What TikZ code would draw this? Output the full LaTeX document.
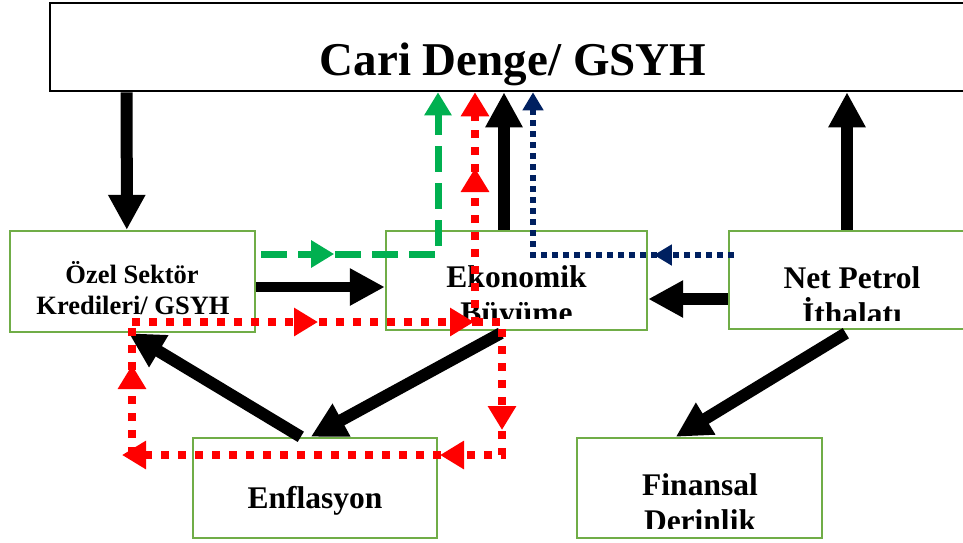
\documentclass[tikz,border=0pt]{standalone}
\usepackage{fontspec}
\setmainfont{Liberation Serif}
\usetikzlibrary{arrows.meta,decorations.markings,calc}
\definecolor{boxgreen}{HTML}{70AD47}
\definecolor{dashgreen}{HTML}{00B050}
\definecolor{navyblue}{HTML}{002060}
\definecolor{redline}{HTML}{FF0000}
\tikzset{
  bigtip/.tip={Triangle[width=35pt,length=35pt]},
  gtip/.tip={Triangle[width=26pt,length=23pt]},
  ntip/.tip={Triangle[width=20pt,length=18pt]},
  rtip/.tip={Triangle[width=27pt,length=24pt]},
  topbox/.style={draw=black, line width=2.6pt, fill=white, inner sep=0pt},
  gbox/.style={draw=boxgreen, line width=2.4pt, fill=white, inner sep=0pt},
  lbl/.style={font=\bfseries\fontsize{31.5}{36}\selectfont, anchor=base, inner sep=0pt},
  lblsmall/.style={font=\bfseries\fontsize{26.5}{31}\selectfont, anchor=base, inner sep=0pt},
  lblbig/.style={font=\bfseries\fontsize{47}{52}\selectfont, anchor=base, inner sep=0pt},
  bigarr/.style={draw=black, line width=12pt, -{bigtip}},
  greendash/.style={draw=dashgreen, line width=7pt, dash pattern=on 26pt off 11pt, -{gtip}},
  navydot/.style={draw=navyblue, line width=5.5pt, dash pattern=on 5.5pt off 5.5pt, -{ntip}},
  reddot/.style={draw=redline, line width=8pt, dash pattern=on 8pt off 9pt},
}
\begin{document}
\begin{tikzpicture}[x=1pt,y=-1pt]
\useasboundingbox (0,0) rectangle (963,542);

% boxes
\node[topbox, minimum width=925pt, minimum height=88pt] (top) at (512.5,47) {};
\node[gbox, minimum width=245pt, minimum height=101pt] (ozel) at (132.5,281.5) {};
\node[gbox, minimum width=261pt, minimum height=99pt] (eko) at (516.5,280.5) {};
\node[gbox, minimum width=246pt, minimum height=98pt] (net) at (852,280) {};
\node[gbox, minimum width=244pt, minimum height=100pt] (enf) at (315,488) {};
\node[gbox, minimum width=245pt, minimum height=100pt] (fin) at (699.5,488) {};

% texts
\node[lblbig] (topT) at (513,75) {Cari Denge/ GSYH};
\node[lblsmall] (ozelT1) at (132,283) {Özel Sektör};
\node[lblsmall] (ozelT2) at (133,314) {Kredileri/ GSYH};
\begin{scope}
  \clip (386,231) rectangle (647,318);
  \node[lbl] (ekoT1) at (516.5,287) {Ekonomik};
  \node[lbl] (ekoT2) at (516.5,323) {Büyüme};
\end{scope}
\begin{scope}
  \clip (729,231) rectangle (963,320);
  \node[lbl] (netT1) at (852,288) {Net Petrol};
  \node[lbl] (netT2) at (852,324) {İthalatı};
\end{scope}
\node[lbl] (enfT) at (315,508) {Enflasyon};
\begin{scope}
  \clip (577,438) rectangle (822,528);
  \node[lbl] (finT1) at (700,495) {Finansal};
  \node[lbl] (finT2) at (700,531) {Derinlik};
\end{scope}

% black arrows
\draw[bigarr] ($(top.south west)+(78,0)$) -- ($(ozel.north west)+(118,0)$);
\draw[bigarr, line width=10pt] ($(ozel.east)+(0,5.5)$) -- ($(eko.west)+(0,6.5)$);
\draw[bigarr] ($(eko.north)+(-12.5,0)$) -- ($(top.south)+(-8.5,0)$);
\draw[bigarr] ($(net.north)+(-5,0)$) -- ($(top.south)+(334.5,0)$);
\draw[bigarr] ($(net.west)+(0,19)$) -- ($(eko.east)+(0,18.5)$);
\draw[bigarr] ($(eko.south west)+(116,2)$) -- ($(enf.north west)+(119,0)$);
\draw[bigarr] ($(enf.north west)+(109,0)$) -- ($(ozel.south west)+(120,0)$);
\draw[bigarr] ($(net.south west)+(118,3)$) -- ($(fin.north west)+(100,0)$);

% turning points
\coordinate (gc) at (438,254);
\coordinate (nc) at (533,255);
\coordinate (rs) at (132,322);
\coordinate (rc1) at (475,322);
\coordinate (rc2) at (502,322);
\coordinate (rc3) at (502,455);
\coordinate (rc4) at (122,455);
\coordinate (rc5) at (132,455);

% green dashed
\draw[greendash, postaction={decorate},
  decoration={markings, mark=at position 73pt with {\arrow{gtip}}}]
  ($(ozel.east)+(5,-27.5)$) -- (gc) -- (gc |- top.south);

% navy dotted
\draw[navydot, postaction={decorate},
  decoration={markings, mark=at position 80pt with {\arrow{ntip}}}]
  ($(net.west)+(6,-25)$) -- (nc) -- (nc |- top.south);

% red dotted
\draw[reddot, -{rtip}, postaction={decorate},
  decoration={markings,
    mark=at position 186pt with {\arrow{rtip}},
    mark=at position 342pt with {\arrow{rtip}},
    mark=at position 497pt with {\arrow{rtip}}}]
  (rs) -- (rc1) -- (rc1 |- top.south);
\draw[reddot, -{rtip}, postaction={decorate},
  decoration={markings,
    mark=at position 135pt with {\arrow{rtip}},
    mark=at position 222pt with {\arrow{rtip}}}]
  (rc1) -- (rc2) -- (rc3) -- (rc4);
\draw[reddot, postaction={decorate},
  decoration={markings, mark=at position 90pt with {\arrow{rtip}}}]
  (rc5) -- (rs);
\end{tikzpicture}
\end{document}
